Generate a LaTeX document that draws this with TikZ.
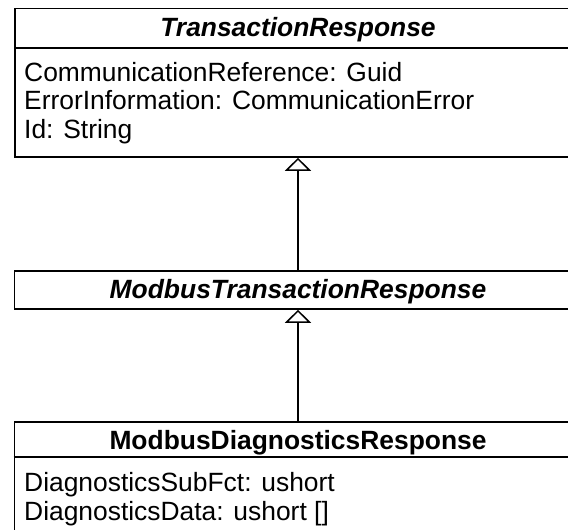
\documentclass[tikz,border=0pt]{standalone}
\usepackage{fontspec}
\setmainfont{Liberation Sans}
\usetikzlibrary{arrows.meta}
\begin{document}
\begin{tikzpicture}[x=1pt,y=-1pt,
  umlframe/.style={draw=black,line width=1.8pt,fill=white},
  umlsep/.style={draw=black,line width=1.6pt},
  headtext/.style={anchor=base,inner sep=0pt,font=\fontsize{26.4}{28.5}\selectfont\bfseries},
  abstracttext/.style={headtext,font=\fontsize{26.4}{28.5}\selectfont\bfseries\itshape},
  attrtext/.style={anchor=base west,inner sep=0pt,font=\fontsize{26.4}{28.5}\selectfont},
  generalization/.style={draw=black,line width=1.5pt,
    -{Triangle[open,length=13pt,width=26pt,fill=white,line width=1.5pt]}}]
\useasboundingbox (0,0) rectangle (568,530);
\clip (0,0) rectangle (568,530);

% class frames (they run on past the right edge)
\node[umlframe,minimum width=600pt,minimum height=148.5pt,inner sep=0pt,anchor=north west] (tr) at (14,7.5) {};
\draw[umlsep] (14,47.7) -- (620,47.7);

\node[umlframe,minimum width=600pt,minimum height=38pt,inner sep=0pt,anchor=north west] (mtr) at (13.5,270) {};

\node[umlframe,minimum width=600pt,minimum height=160pt,inner sep=0pt,anchor=north west] (mdr) at (13.5,421) {};
\draw[umlsep] (13.5,457) -- (620,457);

% class names and attributes
\node[abstracttext] (trname) at (298,36.5) {TransactionResponse};
\node[attrtext] (tra1) at (24,81) {CommunicationReference: Guid};
\node[attrtext] (tra2) at (24,109.5) {ErrorInformation: CommunicationError};
\node[attrtext] (tra3) at (24,138) {Id: String};

\node[abstracttext] (mtrname) at (298,298.5) {ModbusTransactionResponse};

\node[headtext] (mdrname) at (298,449) {ModbusDiagnosticsResponse};
\node[attrtext] (mdra1) at (24,491) {DiagnosticsSubFct: ushort};
\node[attrtext] (mdra2) at (24,520) {DiagnosticsData: ushort []};

% generalization arrows
\coordinate (axis) at (298,0);
\draw[generalization] (mtr.north -| axis) -- (tr.south -| axis);
\draw[generalization] (mdr.north -| axis) -- (mtr.south -| axis);
\end{tikzpicture}
\end{document}
